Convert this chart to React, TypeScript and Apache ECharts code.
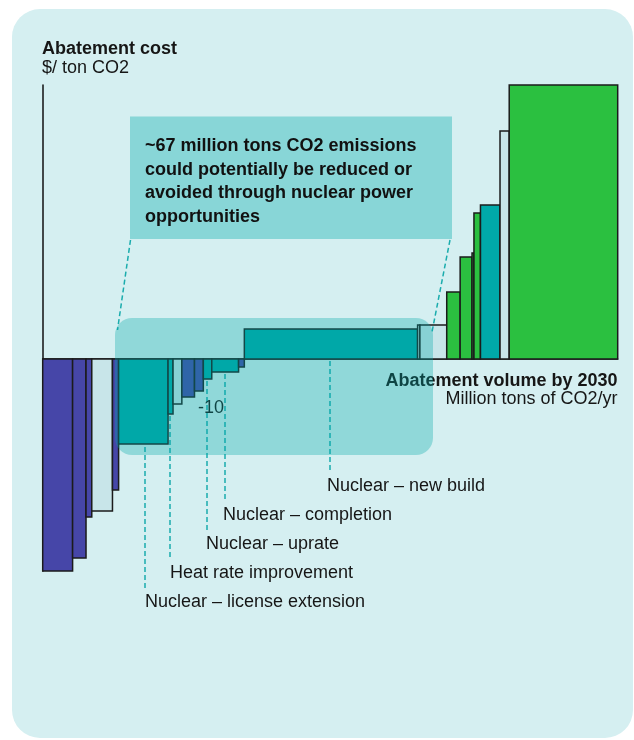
import React, { useEffect, useRef } from "react";
import * as echarts from "echarts";

// Abatement volume (million tons CO2/yr) of each lever, left to right
const volumes = [7.8, 3.5, 1.5, 5.4, 1.6, 12.9, 1.3, 2.3, 3.3, 2.3, 2.2, 7.0, 1.5, 45.2, 0.6, 7.0, 3.5, 3.1, 0.5, 1.7, 5.1, 2.4, 28.3];
// Abatement cost ($/ton CO2) of each lever
const costs = [-106, -99.5, -79, -76, -65.5, -42.5, -27.5, -22.5, -19, -16, -10, -6.5, -4, 15, 17, 17, 33.5, 51, 53, 73, 77, 114, 137];
// Colour group of each lever
const groups = ["blue", "blue", "blue", "light", "blue", "teal", "teal", "light", "blue", "blue", "teal", "teal", "blue", "teal", "light", "light", "green", "green", "green", "green", "teal", "light", "green"];

const calloutLines = [
  "~67 million tons CO2 emissions",
  "could potentially be reduced or",
  "avoided through nuclear power",
  "opportunities",
];
const leverLabels = [
  "Nuclear – new build",
  "Nuclear – completion",
  "Nuclear – uprate",
  "Heat rate improvement",
  "Nuclear – license extension",
];

const palette: Record<string, string> = {
  blue: "#4646a8",
  light: "#c8e5e9",
  teal: "#00a9a9",
  green: "#2bc040",
};

const FONT = "'Liberation Sans', Arial, Helvetica, sans-serif";

export default function App() {
  const ref = useRef<HTMLDivElement>(null);
  useEffect(() => {
    if (!ref.current) return;
    const chart = echarts.init(ref.current, undefined, { renderer: "svg" });

    let acc = 0;
    const data = volumes.map((v, i) => {
      const start = acc;
      acc += v;
      return [start, acc, costs[i], i];
    });

    const txt = (text: string, x: number, y: number, bold: boolean, align = "left", z = 20) => ({
      type: "text",
      x,
      y,
      z,
      style: {
        text,
        font: `${bold ? "bold " : ""}18px ${FONT}`,
        fill: "#161616",
        textAlign: align,
        textVerticalAlign: "middle",
      },
    });
    const dash = (x1: number, y1: number, x2: number, y2: number) => ({
      type: "line",
      z: 15,
      shape: { x1, y1, x2, y2 },
      style: { stroke: "#1aacad", lineWidth: 1.5, lineDash: [5, 3] },
    });

    const labelPos = [
      [327, 484.5],
      [223, 513.5],
      [206, 543],
      [170, 572],
      [145, 601],
    ];

    chart.setOption({
      animation: false,
      grid: { left: 42.7, right: 16.3, top: 85, bottom: 169 },
      xAxis: {
        type: "value",
        min: 0,
        max: 150,
        axisLine: { show: true, onZero: true, lineStyle: { color: "#111", width: 1.5 } },
        axisTick: { show: false },
        axisLabel: { show: false },
        splitLine: { show: false },
      },
      yAxis: {
        type: "value",
        min: -106,
        max: 137,
        axisLine: { show: true, lineStyle: { color: "#111", width: 1.5 } },
        axisTick: { show: false },
        axisLabel: { show: false },
        splitLine: { show: false },
      },
      series: [
        {
          type: "custom",
          z: 3,
          encode: { x: [0, 1], y: 2 },
          data,
          renderItem: (params: any, api: any) => {
            const x0 = api.value(0);
            const x1 = api.value(1);
            const c = api.value(2);
            const idx = api.value(3);
            const p0 = api.coord([x0, 0]);
            const p1 = api.coord([x1, c]);
            return {
              type: "rect",
              shape: {
                x: p0[0],
                y: Math.min(p0[1], p1[1]),
                width: p1[0] - p0[0],
                height: Math.abs(p1[1] - p0[1]),
              },
              style: { fill: palette[groups[idx]], stroke: "#1b1b1b", lineWidth: 1.5 },
            };
          },
        },
      ],
      graphic: [
        {
          type: "rect",
          z: -5,
          shape: { x: 12, y: 9, width: 621, height: 729, r: 28 },
          style: { fill: "#d5eff1" },
        },
        txt("Abatement cost", 42, 48, true),
        txt("$/ ton CO2", 42, 67, false),
        txt("Abatement volume by 2030", 617.5, 379.5, true, "right"),
        txt("Million tons of CO2/yr", 617.5, 398, false, "right"),
        txt("-10", 198, 406.5, false),
        ...leverLabels.map((l, i) => txt(l, labelPos[i][0], labelPos[i][1], false)),
        dash(145, 447, 145, 588),
        dash(170, 416, 170, 558),
        dash(207, 381, 207, 530),
        dash(225, 374, 225, 500),
        dash(330, 361, 330, 473),
        dash(130.5, 240, 117.5, 330),
        dash(450, 240, 432, 332),
        {
          type: "rect",
          z: 30,
          shape: { x: 115, y: 318, width: 318, height: 137, r: 17 },
          style: { fill: "rgba(0,168,168,0.32)" },
        },
        {
          type: "rect",
          z: 30,
          shape: { x: 130, y: 116.5, width: 322, height: 122.5 },
          style: { fill: "rgba(0,168,168,0.36)" },
        },
        {
          type: "text",
          x: 145,
          y: 133.25,
          z: 31,
          style: {
            text: calloutLines.join("\n"),
            font: `bold 18px ${FONT}`,
            lineHeight: 23.5,
            fill: "#111",
            textAlign: "left",
            textVerticalAlign: "top",
          },
        },
      ],
    });
    return () => chart.dispose();
  }, []);
  return (
    <div
      ref={ref}
      style={{ position: "fixed", left: 0, top: 0, width: 634, height: 740 }}
    />
  );
}
